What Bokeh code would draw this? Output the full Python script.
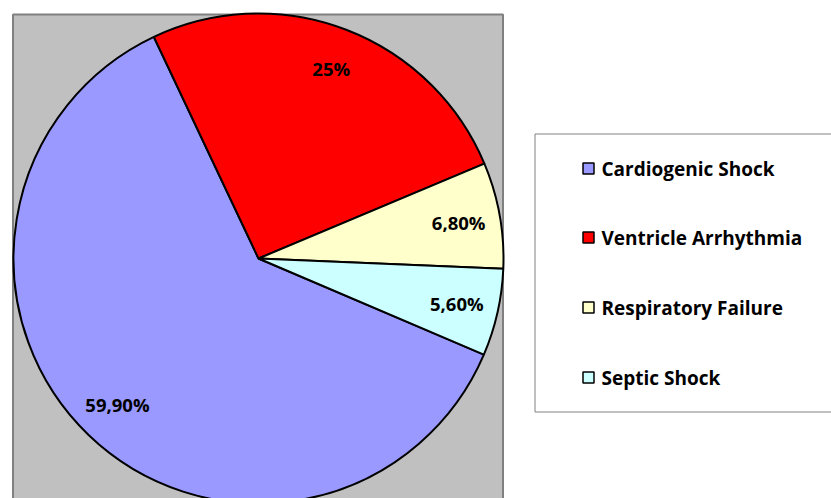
import math
from bokeh.plotting import figure
from bokeh.models import Range1d, ColumnDataSource
from bokeh.core.properties import value
from bokeh.embed import file_html
from bokeh.resources import INLINE

# ---- data ----
categories = ["Cardiogenic Shock", "Ventricle Arrhythmia", "Respiratory Failure", "Septic Shock"]
values = [59.9, 25.0, 6.8, 5.6]
labels = ["59,90%", "25%", "6,80%", "5,60%"]
colors = ["#9999FF", "#FF0000", "#FFFFCC", "#CCFFFF"]

# ---- layout (page pixels, y measured up from bottom of figure) ----
W, H = 831, 498
cx, cy, R = 258, 240, 245
start_deg = -23.1  # math angle where first slice begins, slices run clockwise
label_frac = 0.83
font = "Open Sans"

p = figure(width=W, height=H, output_backend="svg", toolbar_location=None,
           x_range=Range1d(0, W), y_range=Range1d(0, H),
           min_border=0, outline_line_color=None)
p.axis.visible = False
p.grid.visible = False
p.background_fill_color = "white"
p.border_fill_color = "white"

# plot area box
p.quad(left=[12.5], right=[502.5], bottom=[-20], top=[H - 14],
       fill_color="#C0C0C0", line_color="#808080", line_width=2)

total = sum(values)
starts, ends, lx, ly = [], [], [], []
a = start_deg
for v in values:
    span = v / total * 360.0
    s, e = a - span, a  # clockwise: from a going down by span
    starts.append(math.radians(s))
    ends.append(math.radians(e))
    mid = math.radians((s + e) / 2)
    lx.append(cx + label_frac * R * math.cos(mid))
    ly.append(cy + label_frac * R * math.sin(mid))
    a = s

src = ColumnDataSource(dict(start=starts, end=ends, color=colors, lx=lx, ly=ly, label=labels))
p.wedge(x=cx, y=cy, radius=R, start_angle="start", end_angle="end",
        fill_color="color", line_color="black", line_width=2, source=src)
p.text(x="lx", y="ly", text="label", source=src, text_font=value(font),
       text_font_style="bold", text_font_size="18.5px", text_align="center",
       text_baseline="middle", text_color="black")

# legend box
p.quad(left=[534.5], right=[845], bottom=[H - 411.5], top=[H - 133.5],
       fill_color="white", line_color="#808080", line_width=1)
item_y = [H - 168, H - 237, H - 307, H - 377]
lsrc = ColumnDataSource(dict(y=item_y, color=colors, name=categories,
                             sx=[588] * 4, tx=[601] * 4))
p.rect(x="sx", y="y", width=11, height=11, fill_color="color",
       line_color="black", line_width=1.5, source=lsrc)
p.text(x="tx", y="y", text="name", source=lsrc, text_font=value(font),
       text_font_style="bold", text_font_size="19px", text_align="left",
       text_baseline="middle", text_color="black")

open("out.html", "w").write(file_html(p, INLINE))
